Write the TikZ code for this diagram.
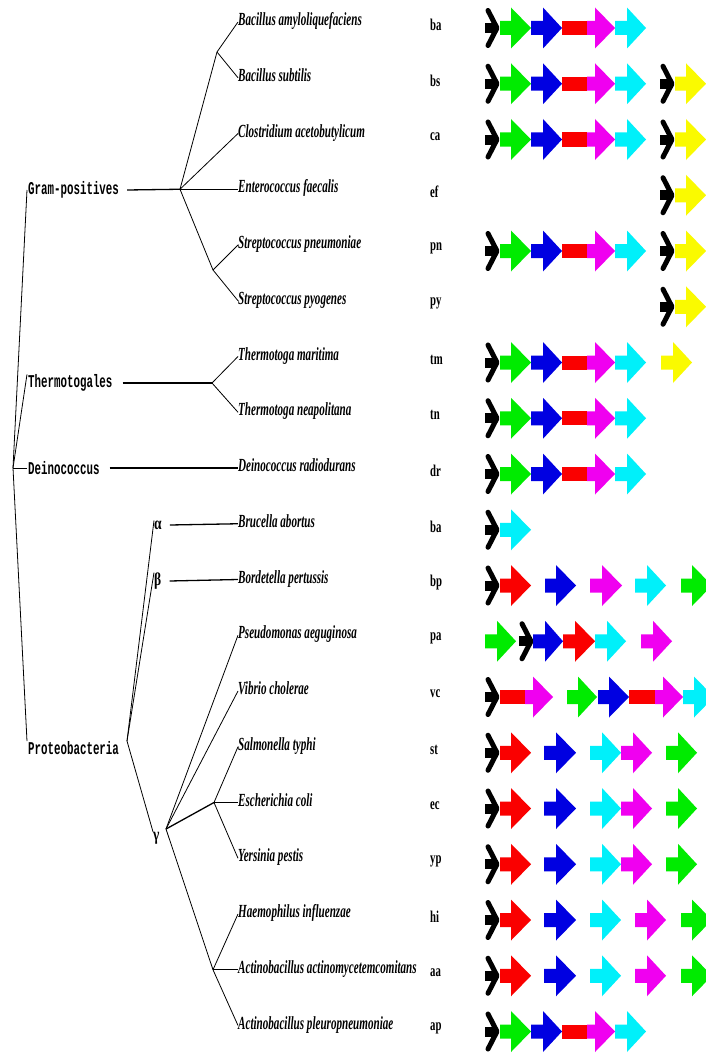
\documentclass[tikz,border=0pt]{standalone}
\usepackage{fontspec}
\newfontfamily\spfont[FakeStretch=0.6]{Liberation Serif}
\newfontfamily\abfont[FakeStretch=0.65]{Liberation Serif}
\newfontfamily\gkfont[FakeStretch=0.75]{Liberation Serif}
\newfontfamily\grfont[FakeStretch=0.6]{Liberation Mono}
\definecolor{cgreen}{RGB}{0,235,0}
\definecolor{cblue}{RGB}{0,0,225}
\definecolor{cred}{RGB}{250,0,0}
\definecolor{cmag}{RGB}{240,0,240}
\definecolor{ccyan}{RGB}{0,240,250}
\definecolor{cyel}{RGB}{250,250,0}
% block arrow: colour, start x, head base x, tip x
\newcommand\gA[4]{\fill[#1] (#2,-7) -- (#3,-7) -- (#3,-20.5) -- (#4,0) -- (#3,20.5) -- (#3,7) -- (#2,7) -- cycle;}
% plain bar: colour, from x, to x
\newcommand\gbarr[3]{\fill[#1] (#2,-7) rectangle (#3,7);}
% black chevron at x
\newcommand\chv[1]{\fill[black] (#1,-5) rectangle ({#1+11},5);
  \draw[black, line width=5pt, line cap=round, line join=round] ({#1+3},-17.5) -- ({#1+12},0) -- ({#1+3},17.5);}
\newcommand\arow[2]{\begin{scope}[shift={(0,#1)}]#2\end{scope}}
\newcommand\patA{\chv{485}\gA{cgreen}{500}{511}{531}\gA{cblue}{531}{543}{562}\gbarr{cred}{562}{587}\gA{cmag}{587}{595}{615}\gA{ccyan}{615}{627}{646}}
\newcommand\patY{\chv{660}\gA{cyel}{675}{686}{706}}
\newcommand\patE{\chv{485}\gA{cred}{500}{511}{531}\gA{cblue}{544}{556}{576}\gA{ccyan}{590}{602}{621}\gA{cmag}{621}{633}{652}\gA{cgreen}{666}{678}{697}}
\newcommand\patH{\chv{485}\gA{cred}{500}{511}{531}\gA{cblue}{544}{556}{576}\gA{ccyan}{590}{602}{621}\gA{cmag}{635}{647}{666}\gA{cgreen}{681}{692}{712}}
\tikzset{
  sp/.style={font={\spfont\fontsize{18.5}{19}\selectfont\bfseries\itshape}, anchor=west, inner sep=0pt, text height=10pt, text depth=3pt},
  ab/.style={font={\abfont\fontsize{16.5}{17}\selectfont\bfseries}, anchor=west, inner sep=0pt},
  gr/.style={font={\grfont\fontsize{18}{19}\selectfont\bfseries}, anchor=west, inner xsep=1pt, inner ysep=0pt},
  gk/.style={font={\gkfont\fontsize{18}{19}\selectfont\bfseries}, anchor=west, inner sep=0pt},
  thin/.style={line width=0.8pt},
  thick/.style={line width=1.3pt}
}
\begin{document}
\begin{tikzpicture}[x=1pt,y=-1pt]
\useasboundingbox (0,0) rectangle (706,1054);
\fill[white] (0,0) rectangle (706,1054);
% species names
\node[sp] (s0) at (238,22) {Bacillus amyloliquefaciens};
\node[sp] (s1) at (238,77.75) {Bacillus subtilis};
\node[sp] (s2) at (238,133.5) {Clostridium acetobutylicum};
\node[sp] (s3) at (238,189.25) {Enterococcus faecalis};
\node[sp] (s4) at (238,245) {Streptococcus pneumoniae};
\node[sp] (s5) at (238,300.75) {Streptococcus pyogenes};
\node[sp] (s6) at (238,356.5) {Thermotoga maritima};
\node[sp] (s7) at (238,412.25) {Thermotoga neapolitana};
\node[sp] (s8) at (238,468) {Deinococcus radiodurans};
\node[sp] (s9) at (238,523.75) {Brucella abortus};
\node[sp] (s10) at (238,579.5) {Bordetella pertussis};
\node[sp] (s11) at (238,635.25) {Pseudomonas aeguginosa};
\node[sp] (s12) at (238,691) {Vibrio cholerae};
\node[sp] (s13) at (238,746.75) {Salmonella typhi};
\node[sp] (s14) at (238,802.5) {Escherichia coli};
\node[sp] (s15) at (238,858.25) {Yersinia pestis};
\node[sp] (s16) at (238,914) {Haemophilus influenzae};
\node[sp] (s17) at (238,969.75) {Actinobacillus actinomycetemcomitans};
\node[sp] (s18) at (238,1025.5) {Actinobacillus pleuropneumoniae};
% abbreviations
\foreach \t [count=\i from 0] in {ba,bs,ca,ef,pn,py,tm,tn,dr,ba,bp,pa,vc,st,ec,yp,hi,aa,ap}
  \node[ab] (a\i) at (430,{25+55.75*\i}) {\t};
% group labels
\node[gr] (gp) at (27,190) {Gram-positives};
\node[gr] (th) at (27,383) {Thermotogales};
\node[gr] (dei) at (27,468) {Deinococcus};
\node[gr] (pr) at (27,748) {Proteobacteria};
\node[gk] (al) at (154,525) {α};
\node[gk] (be) at (154,581) {β};
\node[gk] (ga) at (153,838) {γ};
% junctions
\coordinate (root) at (13,468);
\coordinate (gpn) at (180,189.25);
\coordinate (ban) at (217,52);
\coordinate (stn) at (213,270);
\coordinate (thn) at (212,383);
\coordinate (prn) at (127,741);
\coordinate (ggn) at (166,829);
\coordinate (enn) at (214,802.5);
\coordinate (pan) at (213,969.75);
% tree
\draw[thin] (root) -- (gp.west);
\draw[thin] (root) -- (th.north west);
\draw[thin] (root) -- (dei.west);
\draw[thin] (root) -- (pr.north west);
\draw[thick] ([xshift=7pt]gp.east) -- (gpn);
\draw[thin] (gpn) -- (ban);
\draw[thin] (ban) -- (s0.west);
\draw[thin] (ban) -- (s1.west);
\draw[thin] (gpn) -- (s2.west);
\draw[thick] (gpn) -- (s3.west);
\draw[thin] (gpn) -- (stn);
\draw[thin] (stn) -- (s4.west);
\draw[thin] (stn) -- (s5.west);
\draw[thick] ([xshift=9pt]th.east) -- (thn);
\draw[thin] (thn) -- (s6.west);
\draw[thin] (thn) -- (s7.west);
\draw[thick] ([xshift=9pt]dei.east) -- (s8.west);
\draw[thin] (prn) -- (al.north west);
\draw[thin] (prn) -- (be.north west);
\draw[thin] (prn) -- (ga.north west);
\draw[thick] ([xshift=8pt]al.east) -- (s9.west);
\draw[thick] ([xshift=8pt]be.east) -- (s10.west);
\draw[thin] (ggn) -- (s11.west);
\draw[thin] (ggn) -- (s12.west);
\draw[thick] (ggn) -- (enn);
\draw[thin] (enn) -- (s13.west);
\draw[thick] (enn) -- (s14.west);
\draw[thin] (enn) -- (s15.west);
\draw[thin] (ggn) -- (pan);
\draw[thin] (pan) -- (s16.west);
\draw[thick] (pan) -- (s17.west);
\draw[thin] (pan) -- (s18.west);
% gene arrows
\begin{scope}
\clip (0,0) rectangle (706,1054);
\arow{28}{\patA}
\arow{83.75}{\patA\patY}
\arow{139.5}{\patA\patY}
\arow{195.25}{\patY}
\arow{251}{\patA\patY}
\arow{306.75}{\patY}
\arow{362.5}{\patA\gA{cyel}{661}{673}{692}}
\arow{418.25}{\patA}
\arow{474}{\patA}
\arow{529.75}{\chv{485}\gA{ccyan}{500}{511}{531}}
\arow{585.5}{\chv{485}\gA{cred}{500}{511}{531}\gA{cblue}{545}{556}{576}\gA{cmag}{590}{602}{622}\gA{ccyan}{635}{647}{666}\gA{cgreen}{681}{692}{712}}
\arow{641.25}{\gA{cgreen}{485}{497}{516}\chv{519}\gA{cblue}{533}{545}{563}\gA{cred}{563}{575}{595}\gA{ccyan}{595}{607}{626}\gA{cmag}{641}{653}{672}}
\arow{697}{\chv{485}\gbarr{cred}{500}{525}\gA{cmag}{525}{533}{553}\gA{cgreen}{567}{578}{597}\gA{cblue}{598}{609}{629}\gbarr{cred}{629}{655}\gA{cmag}{655}{663}{683}\gA{ccyan}{683}{694}{714}}
\arow{752.75}{\patE}
\arow{808.5}{\patE}
\arow{864.25}{\patE}
\arow{920}{\patH}
\arow{975.75}{\patH}
\arow{1031.5}{\patA}
\end{scope}
\end{tikzpicture}
\end{document}
